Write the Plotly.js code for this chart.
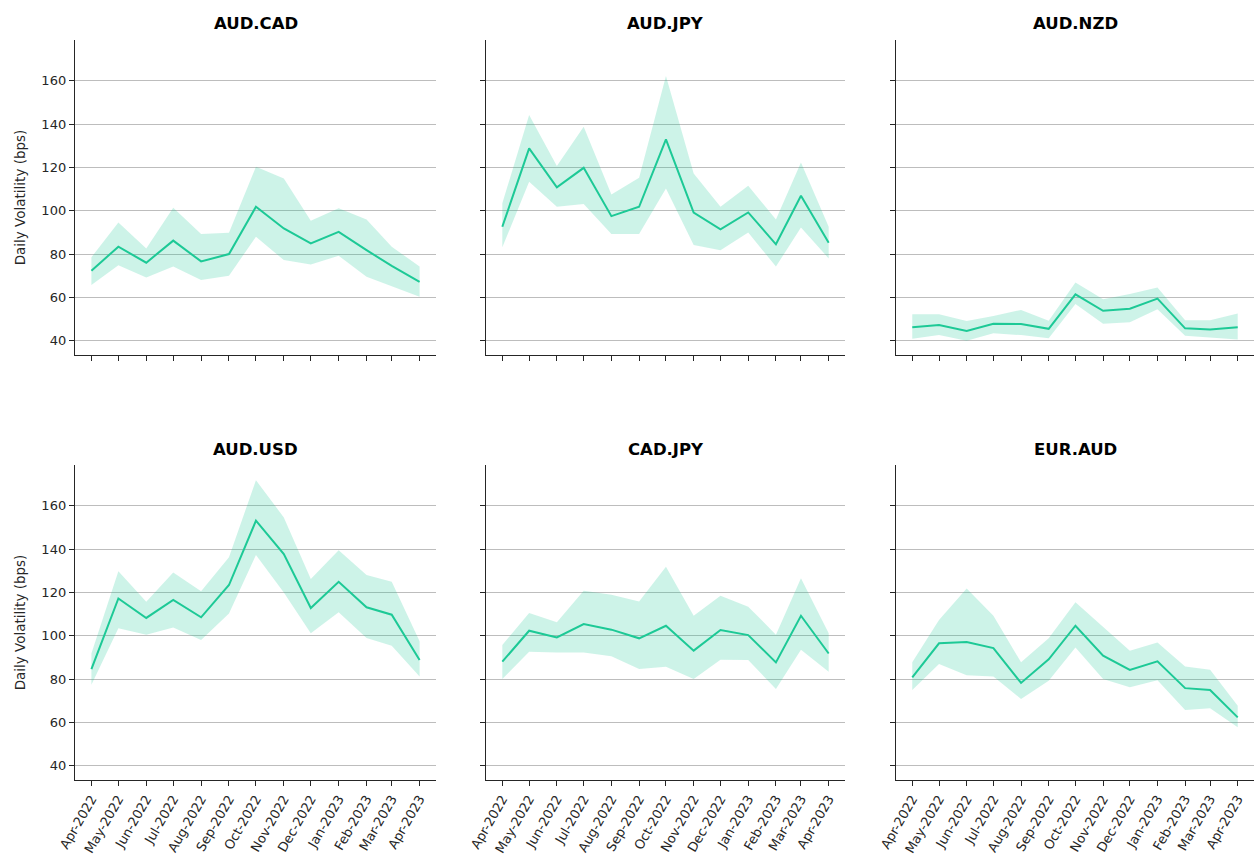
<!DOCTYPE html>
<html>
<head>
<meta charset="utf-8">
<script src="https://cdn.plot.ly/plotly-3.0.1.min.js"></script>
<style>html,body{margin:0;padding:0;background:#fff;}#chart{width:1254px;height:855px;}</style>
</head>
<body>
<div id="chart"></div>
<script>
// ---- data ----
const months = ["2022-04-01","2022-05-01","2022-06-01","2022-07-01","2022-08-01","2022-09-01","2022-10-01","2022-11-01","2022-12-01","2023-01-01","2023-02-01","2023-03-01","2023-04-01"];
const monthLabels = ["Apr-2022","May-2022","Jun-2022","Jul-2022","Aug-2022","Sep-2022","Oct-2022","Nov-2022","Dec-2022","Jan-2023","Feb-2023","Mar-2023","Apr-2023"];
const pairs = ["AUD.CAD","AUD.JPY","AUD.NZD","AUD.USD","CAD.JPY","EUR.AUD"];

const audcadMean  = [72.3, 83.4, 76.0, 86.2, 76.6, 80.0, 101.8, 91.8, 84.9, 90.2, 81.8, 74.5, 67.2];
const audcadUpper = [78.5, 94.6, 82.6, 101.4, 89.2, 89.8, 120.3, 114.9, 95.4, 101.1, 96.0, 83.4, 74.2];
const audcadLower = [65.7, 74.8, 69.2, 74.2, 68.0, 70.0, 88.0, 77.2, 75.2, 79.2, 69.5, 65.2, 60.3];

const audjpyMean  = [92.6, 128.8, 110.8, 119.8, 97.5, 101.8, 132.9, 99.1, 91.4, 99.2, 84.5, 106.9, 85.2];
const audjpyUpper = [103.4, 144.2, 120.6, 138.8, 107.5, 115.2, 162.2, 117.2, 101.8, 111.5, 96.0, 122.2, 92.6];
const audjpyLower = [83.1, 113.4, 101.8, 103.1, 89.2, 89.2, 110.3, 84.2, 81.8, 90.0, 74.2, 92.3, 78.0];

const audnzdMean  = [46.2, 47.2, 44.5, 47.8, 47.7, 45.5, 61.4, 53.8, 54.8, 59.4, 45.7, 45.2, 46.2];
const audnzdUpper = [52.2, 52.2, 49.1, 51.4, 54.2, 49.2, 66.9, 59.1, 61.5, 64.6, 49.4, 49.4, 52.5];
const audnzdLower = [40.9, 42.6, 40.0, 43.4, 42.6, 41.1, 56.9, 47.8, 48.5, 54.5, 42.3, 41.5, 40.6];

const audusdMean  = [84.6, 117.2, 108.2, 116.5, 108.5, 123.4, 153.1, 137.7, 112.8, 124.9, 113.1, 109.7, 88.8];
const audusdUpper = [91.8, 129.7, 115.7, 129.2, 120.5, 136.2, 171.8, 154.6, 126.2, 139.5, 128.0, 124.9, 97.4];
const audusdLower = [77.4, 103.5, 100.5, 103.8, 98.0, 110.3, 137.2, 120.0, 101.1, 110.8, 98.9, 95.4, 81.2];

const cadjpyMean  = [88.0, 102.3, 99.2, 105.4, 102.8, 98.8, 104.6, 93.1, 102.6, 100.3, 87.7, 109.2, 91.8];
const cadjpyUpper = [95.7, 110.5, 106.2, 120.8, 118.9, 115.8, 131.8, 109.2, 118.5, 113.4, 100.5, 126.5, 101.1];
const cadjpyLower = [80.0, 92.6, 92.3, 92.3, 90.5, 84.6, 85.7, 80.0, 88.9, 88.8, 75.4, 93.5, 83.4];

const euraudMean  = [80.8, 96.5, 97.1, 94.3, 78.2, 89.1, 104.6, 90.8, 84.2, 88.2, 75.8, 74.9, 62.3];
const euraudUpper = [87.7, 107.2, 121.8, 109.2, 87.7, 98.8, 115.4, 104.3, 93.1, 96.9, 85.8, 84.3, 67.7];
const euraudLower = [74.9, 86.9, 81.8, 81.2, 70.8, 79.2, 94.6, 80.0, 76.2, 79.5, 65.7, 66.5, 57.7];

const yTickVals = [40, 60, 80, 100, 120, 140, 160];

// ---- build ----
const series = [
  [audcadMean, audcadUpper, audcadLower],
  [audjpyMean, audjpyUpper, audjpyLower],
  [audnzdMean, audnzdUpper, audnzdLower],
  [audusdMean, audusdUpper, audusdLower],
  [cadjpyMean, cadjpyUpper, cadjpyLower],
  [euraudMean, euraudUpper, euraudLower]
];

const W = 1254, H = 855;
const colPx = [[75, 436], [486, 845], [896, 1254]];
const rowPx = [[40, 355], [465, 780]];
const lineColor = "#1dc996";
const fillColor = "rgba(29,201,150,0.22)";
const font = "DejaVu Sans, sans-serif";
const ink = "#262626";

const traces = [];
const layout = {
  width: W, height: H,
  margin: {l: 0, r: 0, t: 0, b: 0},
  paper_bgcolor: "#ffffff",
  plot_bgcolor: "#ffffff",
  showlegend: false,
  font: {family: font, color: ink, size: 13},
  annotations: []
};

series.forEach((s, i) => {
  const r = Math.floor(i / 3), c = i % 3;
  const n = i + 1;
  const xa = "x" + (n === 1 ? "" : n), ya = "y" + (n === 1 ? "" : n);
  const xk = "xaxis" + (n === 1 ? "" : n), yk = "yaxis" + (n === 1 ? "" : n);
  traces.push({x: months, y: s[1], xaxis: xa, yaxis: ya, type: "scatter", mode: "lines",
    line: {width: 0, color: fillColor}, hoverinfo: "skip"});
  traces.push({x: months, y: s[2], xaxis: xa, yaxis: ya, type: "scatter", mode: "lines",
    line: {width: 0, color: fillColor}, fill: "tonexty", fillcolor: fillColor, hoverinfo: "skip"});
  traces.push({x: months, y: s[0], xaxis: xa, yaxis: ya, type: "scatter", mode: "lines",
    line: {width: 2, color: lineColor}, name: pairs[i]});

  layout[xk] = {
    domain: [colPx[c][0] / W, colPx[c][1] / W],
    anchor: ya,
    type: "date",
    range: ["2022-03-13 18:00", "2023-04-19 06:00"],
    tickmode: "array",
    tickvals: months,
    ticktext: r === 1 ? monthLabels : monthLabels.map(() => ""),
    showticklabels: r === 1,
    tickangle: -60,
    ticks: "outside", ticklen: 5, tickwidth: 1, tickcolor: ink,
    showline: true, linecolor: ink, linewidth: 1.2,
    showgrid: false, zeroline: false,
    tickfont: {family: font, size: 13, color: ink}
  };
  layout[yk] = {
    domain: [1 - rowPx[r][1] / H, 1 - rowPx[r][0] / H],
    anchor: xa,
    range: [33.4, 178.8],
    tickmode: "array",
    tickvals: yTickVals,
    showticklabels: c === 0,
    ticks: "outside", ticklen: 5, tickwidth: 1, tickcolor: ink,
    showline: true, linecolor: ink, linewidth: 1.2,
    showgrid: true, gridcolor: "#bdbdbd", gridwidth: 1,
    zeroline: false,
    tickfont: {family: font, size: 13, color: ink},
    title: c === 0 ? {text: "Daily Volatility (bps)", font: {family: font, size: 13.5, color: ink}, standoff: 12} : {text: ""}
  };
  layout.annotations.push({
    text: "<b>" + pairs[i] + "</b>",
    xref: "paper", yref: "paper",
    x: (colPx[c][0] + colPx[c][1]) / 2 / W,
    y: 1 - (rowPx[r][0] - 16) / H,
    xanchor: "center", yanchor: "middle",
    showarrow: false,
    font: {family: font, size: 16.5, color: "#000"}
  });
});

Plotly.newPlot("chart", traces, layout, {staticPlot: true, displayModeBar: false});
</script>
</body>
</html>
